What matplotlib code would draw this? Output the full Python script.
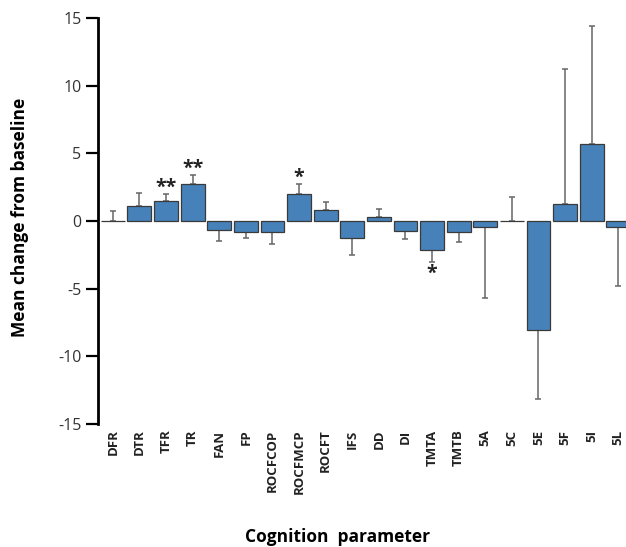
import numpy as np
import matplotlib
matplotlib.use('Agg')
from matplotlib import pyplot as plt

plt.rcParams['font.family'] = ['Open Sans', 'DejaVu Sans']
plt.rcParams['axes.unicode_minus'] = False

params = ['DFR', 'DTR', 'TFR', 'TR', 'FAN', 'FP', 'ROCFCOP', 'ROCFMCP', 'ROCFT', 'IFS',
          'DD', 'DI', 'TMTA', 'TMTB', '5A', '5C', '5E', '5F', '5I', '5L']
means = [0.0, 1.08, 1.48, 2.71, -0.69, -0.84, -0.84, 1.97, 0.79, -1.23,
         0.27, -0.74, -2.12, -0.84, -0.44, 0.0, -8.03, 1.28, 5.66, -0.44]
# error bar ends (one-sided, away from zero)
err_end = [0.74, 2.07, 1.97, 3.42, -1.50, -1.23, -1.70, 2.73, 1.40, -2.51,
           0.89, -1.35, -3.03, -1.57, -5.69, 1.75, -13.16, 11.26, 14.39, -4.78]
stars = {'TFR': '**', 'TR': '**', 'ROCFMCP': '*', 'TMTA': '*'}

x = np.arange(len(params))
means = np.array(means)
err_end = np.array(err_end)
err_len = np.abs(err_end - means)
lower = np.where(err_end < means, err_len, 0)
upper = np.where(err_end >= means, err_len, 0)

fig = plt.figure(figsize=(6.26, 5.47), dpi=100)
ax = fig.add_axes([0.1565, 0.2249, 0.8435, 0.7421])

ax.bar(x, means, width=0.9, color='#4682b9', edgecolor='#3a3a3a', linewidth=0.9, zorder=2)
ax.errorbar(x, means, yerr=[lower, upper], fmt='none', ecolor='#666666',
            elinewidth=1.1, capsize=2, capthick=1.1, zorder=1)

for i, p in enumerate(params):
    if p in stars:
        off = 0.45 if err_end[i] > 0 else -0.85
        ax.text(x[i], err_end[i] + off, stars[p], ha='center', va='center',
                fontsize=14, fontweight='bold', color='#222222')

ax.set_xlim(-0.56, 19.29)
ax.set_ylim(-15, 15)
ax.set_yticks([-15, -10, -5, 0, 5, 10, 15])
ax.set_xticks(x)
ax.set_xticklabels(params, rotation=90, fontsize=9.5, fontweight='bold', color='#222222')
ax.tick_params(axis='x', length=0, pad=4)
ax.tick_params(axis='y', direction='out', length=9, width=1.6, labelsize=11.5, pad=3,
               labelcolor='#333333')

for s in ['top', 'right', 'bottom']:
    ax.spines[s].set_visible(False)
ax.spines['left'].set_linewidth(2)
ax.spines['left'].set_bounds(-15, 15)

ax.set_ylabel('Mean change from baseline', fontsize=12.5, fontweight='bold')
ax.yaxis.set_label_coords(-0.131, 0.51)
ax.set_xlabel('Cognition  parameter', fontsize=12.5, fontweight='bold')
ax.xaxis.set_label_coords(0.453, -0.256)

fig.savefig('out.png', dpi=100)
